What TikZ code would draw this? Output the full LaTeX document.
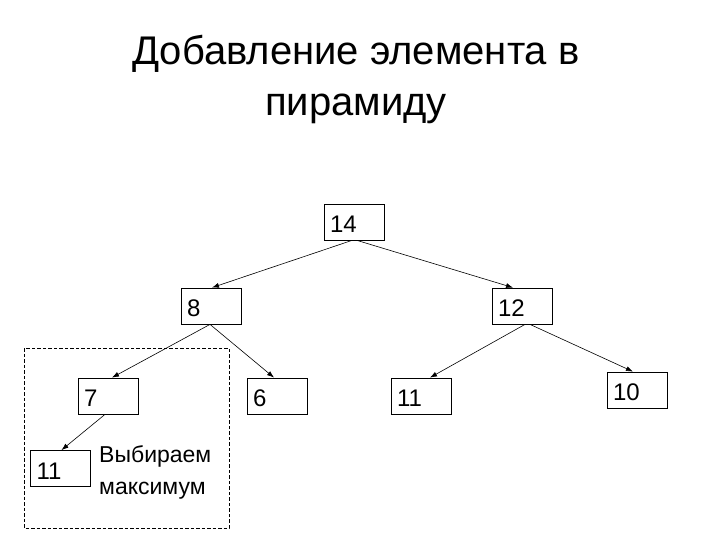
\documentclass[tikz,border=0pt]{standalone}
\usepackage{fontspec}
\setmainfont{Liberation Sans}
\usetikzlibrary{arrows.meta,calc}
\begin{document}
\begin{tikzpicture}[x=1pt,y=-1pt,
  keybox/.style={draw,line width=0.8pt,minimum height=36pt,text width=48pt,text height=21pt,text depth=0pt,inner xsep=6pt,inner ysep=0pt,align=left,font=\fontsize{24}{28}\selectfont},
  edge/.style={line width=0.6pt,-{Latex[length=7pt,width=5pt]}},
  frame/.style={draw,line width=0.8pt,dash pattern=on 3.5pt off 2pt}]
\useasboundingbox (0,0) rectangle (720,540);
\node[font=\fontsize{40}{51}\selectfont,align=center,anchor=base] (title) at (356,116) {Добавление элемента в\\пирамиду};
\draw[frame] (24,348) rectangle (229,528);
\node[keybox] (n14) at (354,222) {14};
\node[keybox] (n8) at (211,306) {8};
\node[keybox] (n12) at (522,306) {12};
\node[keybox] (n7) at (108,396) {7};
\node[keybox] (n6) at (277,396) {6};
\node[keybox] (n11r) at (421,396) {11};
\node[keybox] (n10) at (637,390) {10};
\node[keybox] (n11l) at (60.5,468.5) {11};
\node[font=\fontsize{23}{32}\selectfont,align=left,anchor=base west,inner sep=0pt] (cap) at (99,494) {Выбираем\\максимум};
\draw[edge] ($(n14.south)+(-2,0)$) -- ($(n8.north)+(1,0)$);
\draw[edge] ($(n14.south)+(3,0)$) -- ($(n12.north)+(-9,0)$);
\draw[edge] ($(n8.south)+(-1,0)$) -- ($(n7.north)+(4,0)$);
\draw[edge] ($(n8.south)+(-1,0)$) -- ($(n6.north)+(-3,0)$);
\draw[edge] ($(n12.south)+(3,0)$) -- ($(n11r.north)+(9,0)$);
\draw[edge] ($(n12.south)+(8,0)$) -- ($(n10.north)+(-4,0)$);
\draw[edge] ($(n7.south)+(-3,0)$) -- ($(n11l.north)+(1,0)$);
\end{tikzpicture}
\end{document}
